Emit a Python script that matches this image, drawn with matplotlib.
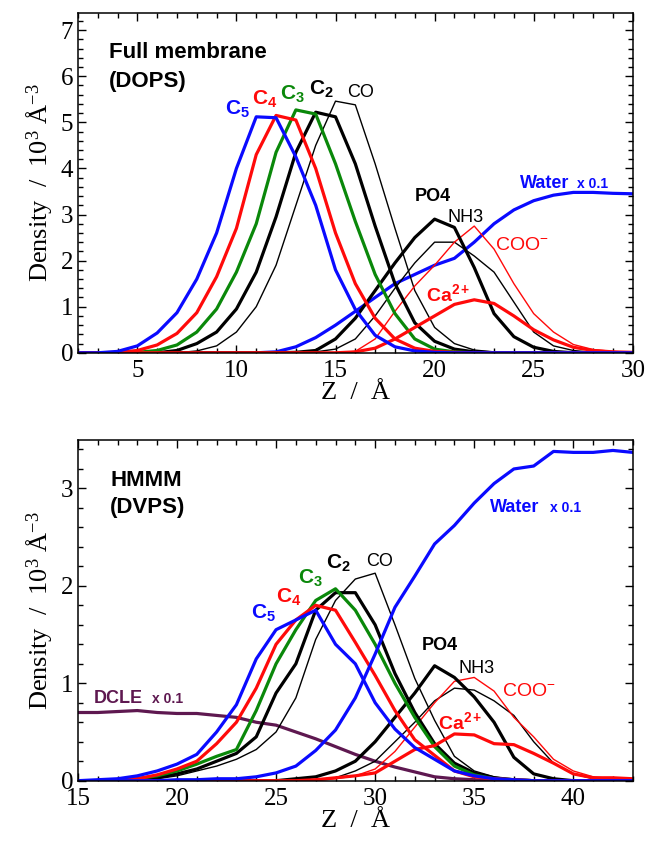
import matplotlib
matplotlib.use("Agg")
import matplotlib.pyplot as plt
from matplotlib.ticker import MultipleLocator

plt.rcParams['font.family'] = ['Liberation Serif', 'DejaVu Serif']
plt.rcParams['mathtext.fontset'] = 'custom'
plt.rcParams['mathtext.rm'] = 'Liberation Serif'
plt.rcParams['mathtext.it'] = 'Liberation Serif:italic'
plt.rcParams['mathtext.sf'] = 'Liberation Sans:bold'
plt.rcParams['mathtext.bf'] = 'Liberation Sans:bold'
plt.rcParams['mathtext.tt'] = 'Liberation Sans'

BLUE = '#0a0aff'
RED = '#ff0a0a'
GREEN = '#0a880a'
BLACK = '#000000'
PURPLE = '#5e1850'

# ---- top panel: full membrane (DOPS), Z = 2..30
z_top = list(range(2, 31))
c5_top = [0, 0, 0.03, 0.15, 0.43, 0.87, 1.6, 2.6, 4.0, 5.12, 5.1, 4.25, 3.2, 1.8, 0.94, 0.38, 0.13, 0.04, 0.01,
          0, 0, 0, 0, 0, 0, 0, 0, 0, 0]
c4_top = [0, 0, 0.01, 0.05, 0.17, 0.42, 0.87, 1.65, 2.7, 4.3, 5.15, 5.05, 4.0, 2.6, 1.5, 0.75, 0.3, 0.1, 0.03,
          0.01, 0, 0, 0, 0, 0, 0, 0, 0, 0]
c3_top = [0, 0, 0, 0.01, 0.05, 0.17, 0.45, 0.95, 1.75, 2.8, 4.35, 5.27, 5.18, 4.1, 2.85, 1.7, 0.85, 0.3, 0.08,
          0.02, 0, 0, 0, 0, 0, 0, 0, 0, 0]
c2_top = [0, 0, 0, 0, 0, 0.05, 0.2, 0.45, 0.95, 1.75, 2.95, 4.35, 5.22, 5.12, 4.1, 2.75, 1.5, 0.65, 0.25,
          0.08, 0.02, 0, 0, 0, 0, 0, 0, 0, 0]
co_top = [0, 0, 0, 0, 0, 0, 0.04, 0.15, 0.45, 1.0, 1.9, 3.2, 4.5, 5.46, 5.38, 4.1, 2.7, 1.35, 0.55,
          0.2, 0.06, 0.02, 0, 0, 0, 0, 0, 0, 0]
po4_top = [0, 0, 0, 0, 0, 0, 0, 0, 0, 0, 0, 0.01, 0.05, 0.3, 0.75, 1.35, 1.95, 2.5, 2.9,
           2.72, 1.85, 0.85, 0.35, 0.12, 0.03, 0, 0, 0, 0]
nh3_top = [0, 0, 0, 0, 0, 0, 0, 0, 0, 0, 0, 0, 0.02, 0.08, 0.3, 0.8, 1.4, 1.95, 2.4,
           2.4, 2.1, 1.75, 1.1, 0.45, 0.15, 0.05, 0.01, 0, 0]
coo_top = [0, 0, 0, 0, 0, 0, 0, 0, 0, 0, 0, 0, 0, 0, 0.03, 0.3, 0.9, 1.45, 1.9,
           2.4, 2.75, 2.25, 1.5, 0.85, 0.45, 0.18, 0.07, 0.03, 0.01]
ca_top = [0, 0, 0, 0, 0, 0, 0, 0, 0, 0, 0, 0, 0, 0, 0.02, 0.1, 0.3, 0.55, 0.8,
          1.05, 1.15, 1.07, 0.8, 0.5, 0.28, 0.12, 0.05, 0.02, 0.01]
water_top = [0, 0, 0, 0, 0, 0, 0, 0, 0, 0, 0.02, 0.13, 0.33, 0.6, 0.9, 1.2, 1.5, 1.7, 1.9,
             2.05, 2.4, 2.8, 3.1, 3.3, 3.42, 3.48, 3.48, 3.46, 3.45]

# ---- bottom panel: HMMM (DVPS), Z = 15..43
z_bot = list(range(15, 44))
water_bot = [0, 0, 0, 0, 0, 0.01, 0.01, 0.02, 0.02, 0.04, 0.08, 0.15, 0.31, 0.52, 0.85,
             1.3, 1.78, 2.1, 2.43, 2.62, 2.85, 3.05, 3.2, 3.23, 3.38, 3.37, 3.37, 3.39, 3.37]
dcle_bot = [0.7, 0.7, 0.71, 0.72, 0.7, 0.69, 0.69, 0.67, 0.65, 0.6, 0.57, 0.5, 0.43, 0.35, 0.27,
            0.2, 0.14, 0.09, 0.04, 0.02, 0.01, 0, 0, 0, 0, 0, 0, 0, 0]
c5_bot = [0, 0.01, 0.02, 0.05, 0.1, 0.17, 0.27, 0.5, 0.78, 1.25, 1.55, 1.65, 1.75, 1.4, 1.2,
          0.8, 0.53, 0.34, 0.22, 0.1, 0.05, 0.02, 0.01, 0, 0, 0, 0, 0, 0]
c4_bot = [0, 0, 0.01, 0.02, 0.06, 0.12, 0.2, 0.38, 0.6, 0.95, 1.4, 1.65, 1.8, 1.75, 1.42,
          1.08, 0.72, 0.42, 0.26, 0.1, 0.04, 0.02, 0.01, 0, 0, 0, 0, 0, 0]
c3_bot = [0, 0, 0, 0.02, 0.05, 0.1, 0.17, 0.25, 0.32, 0.72, 1.2, 1.55, 1.85, 1.97, 1.75,
          1.4, 1.0, 0.65, 0.35, 0.15, 0.06, 0.02, 0.01, 0, 0, 0, 0, 0, 0]
c2_bot = [0, 0, 0, 0, 0.03, 0.07, 0.12, 0.2, 0.28, 0.45, 0.9, 1.2, 1.75, 1.93, 1.93,
          1.6, 1.1, 0.7, 0.38, 0.18, 0.08, 0.03, 0.01, 0, 0, 0, 0, 0, 0]
co_bot = [0, 0, 0, 0, 0.02, 0.05, 0.1, 0.15, 0.22, 0.32, 0.5, 0.85, 1.45, 1.85, 2.07,
          2.13, 1.6, 1.05, 0.62, 0.25, 0.1, 0.04, 0.01, 0, 0, 0, 0, 0, 0]
po4_bot = [0, 0, 0, 0, 0, 0, 0, 0, 0, 0, 0, 0.02, 0.04, 0.1, 0.2,
           0.4, 0.65, 0.9, 1.18, 1.06, 0.86, 0.6, 0.24, 0.07, 0.02, 0, 0, 0, 0]
nh3_bot = [0, 0, 0, 0, 0, 0, 0, 0, 0, 0, 0, 0, 0.01, 0.03, 0.1,
           0.2, 0.4, 0.6, 0.82, 0.95, 0.93, 0.82, 0.67, 0.4, 0.18, 0.07, 0.02, 0.01, 0]
coo_bot = [0, 0, 0, 0, 0, 0, 0, 0, 0, 0, 0, 0, 0, 0.02, 0.05,
           0.12, 0.3, 0.55, 0.8, 1.02, 1.06, 0.92, 0.65, 0.45, 0.22, 0.1, 0.04, 0.02, 0.02]
ca_bot = [0, 0, 0, 0, 0, 0, 0, 0, 0, 0, 0, 0, 0.01, 0.03, 0.05,
          0.08, 0.2, 0.32, 0.36, 0.48, 0.47, 0.38, 0.37, 0.28, 0.18, 0.07, 0.03, 0.03, 0.02]

THICK = 2.3
THIN = 1.0


def style_axes(ax, xlim, ylim):
    ax.set_xlim(*xlim)
    ax.set_ylim(*ylim)
    ax.xaxis.set_major_locator(MultipleLocator(5))
    ax.xaxis.set_minor_locator(MultipleLocator(1))
    ax.yaxis.set_major_locator(MultipleLocator(1))
    ax.yaxis.set_minor_locator(MultipleLocator(0.2))
    ax.tick_params(which='both', direction='in', top=True, right=True, labelsize=18, width=1.0)
    ax.tick_params(which='major', length=6)
    ax.tick_params(which='minor', length=3.5)
    ax.tick_params(axis='x', pad=5)
    for s in ax.spines.values():
        s.set_linewidth(1.1)
    ax.set_xlabel('Z  /  Å', fontsize=19, labelpad=0)
    ax.set_ylabel(r'Density  /  $\mathrm{10^3\ \AA^{-3}}$', fontsize=19, labelpad=4)


def label(ax, x, y, s, color, size=13, weight='bold'):
    ax.text(x, y, s, color=color, fontsize=size, fontweight=weight,
            family='Liberation Sans', ha='left', va='baseline')


fig = plt.figure(figsize=(6.49, 8.44), dpi=100)
ax1 = fig.add_axes([0.120, 0.582, 0.855, 0.403])
ax2 = fig.add_axes([0.120, 0.075, 0.855, 0.404])

# top panel
ax1.plot(z_top, water_top, color=BLUE, lw=THICK)
ax1.plot(z_top, co_top, color=BLACK, lw=THIN)
ax1.plot(z_top, nh3_top, color=BLACK, lw=THIN)
ax1.plot(z_top, coo_top, color=RED, lw=THIN)
ax1.plot(z_top, c2_top, color=BLACK, lw=THICK)
ax1.plot(z_top, po4_top, color=BLACK, lw=THICK)
ax1.plot(z_top, c3_top, color=GREEN, lw=THICK)
ax1.plot(z_top, c4_top, color=RED, lw=THICK)
ax1.plot(z_top, ca_top, color=RED, lw=THICK)
ax1.plot(z_top, c5_top, color=BLUE, lw=THICK)
style_axes(ax1, (2, 30), (0, 7.38))

label(ax1, 3.57, 6.4, 'Full membrane', BLACK, size=16)
label(ax1, 3.57, 5.77, '(DOPS)', BLACK, size=16)
label(ax1, 9.4, 5.17, r'$\mathsf{C_5}$', BLUE, size=15)
label(ax1, 10.8, 5.39, r'$\mathsf{C_4}$', RED, size=15)
label(ax1, 12.2, 5.5, r'$\mathsf{C_3}$', GREEN, size=15)
label(ax1, 13.65, 5.6, r'$\mathsf{C_2}$', BLACK, size=15)
label(ax1, 15.6, 5.55, 'CO', BLACK, weight='normal')
label(ax1, 19.0, 3.29, 'PO4', BLACK)
label(ax1, 20.64, 2.83, 'NH3', BLACK, weight='normal')
label(ax1, 23.06, 2.24, r'$\mathtt{COO^{-}}$', RED, size=14)
label(ax1, 19.55, 1.12, r'$\mathsf{Ca^{2+}}$', RED, size=14)
label(ax1, 24.3, 3.58, 'Water', BLUE)
label(ax1, 27.2, 3.58, 'x 0.1', BLUE, size=10)

# bottom panel
ax2.plot(z_bot, dcle_bot, color=PURPLE, lw=THICK)
ax2.plot(z_bot, co_bot, color=BLACK, lw=THIN)
ax2.plot(z_bot, nh3_bot, color=BLACK, lw=THIN)
ax2.plot(z_bot, coo_bot, color=RED, lw=THIN)
ax2.plot(z_bot, c2_bot, color=BLACK, lw=THICK)
ax2.plot(z_bot, po4_bot, color=BLACK, lw=THICK)
ax2.plot(z_bot, c3_bot, color=GREEN, lw=THICK)
ax2.plot(z_bot, c4_bot, color=RED, lw=THICK)
ax2.plot(z_bot, ca_bot, color=RED, lw=THICK)
ax2.plot(z_bot, c5_bot, color=BLUE, lw=THICK)
ax2.plot(z_bot, water_bot, color=BLUE, lw=THICK)
style_axes(ax2, (15, 43), (0, 3.5))

label(ax2, 16.63, 3.03, 'HMMM', BLACK, size=16)
label(ax2, 16.63, 2.75, '(DVPS)', BLACK, size=16)
label(ax2, 23.73, 1.66, r'$\mathsf{C_5}$', BLUE, size=15)
label(ax2, 24.99, 1.83, r'$\mathsf{C_4}$', RED, size=15)
label(ax2, 26.1, 2.02, r'$\mathsf{C_3}$', GREEN, size=15)
label(ax2, 27.54, 2.18, r'$\mathsf{C_2}$', BLACK, size=15)
label(ax2, 29.52, 2.2, 'CO', BLACK, weight='normal')
label(ax2, 32.34, 1.34, 'PO4', BLACK)
label(ax2, 34.22, 1.11, 'NH3', BLACK, weight='normal')
label(ax2, 36.42, 0.87, r'$\mathtt{COO^{-}}$', RED, size=14)
label(ax2, 33.18, 0.53, r'$\mathsf{Ca^{2+}}$', RED, size=14)
label(ax2, 35.8, 2.76, 'Water', BLUE)
label(ax2, 38.8, 2.76, 'x 0.1', BLUE, size=10)
label(ax2, 15.8, 0.8, 'DCLE', PURPLE)
label(ax2, 18.75, 0.8, 'x 0.1', PURPLE, size=10)

fig.savefig('out.png', dpi=100)
